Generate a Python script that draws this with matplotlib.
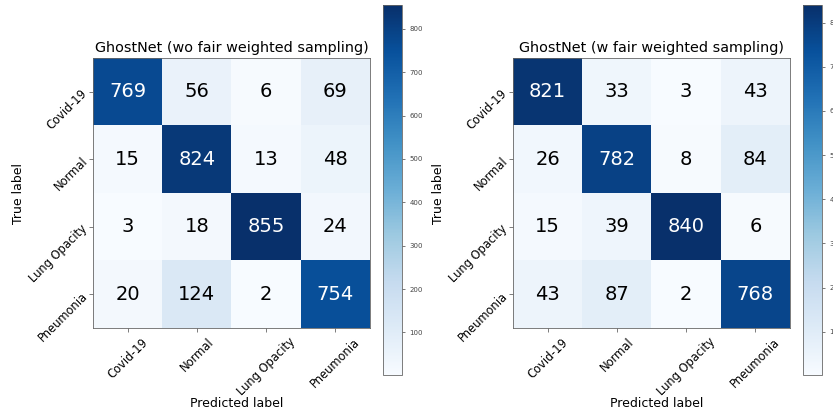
#!/usr/bin/env python

"""
Confusion matrices of GhostNet with and without fair weighted sampling.
"""

import matplotlib
matplotlib.use("Agg")
import matplotlib.pyplot as plt
import numpy as np

classes = ["Covid-19", "Normal", "Lung Opacity", "Pneumonia"]

cm_wo = [[769, 56, 6, 69],
         [15, 824, 13, 48],
         [3, 18, 855, 24],
         [20, 124, 2, 754]]

cm_w = [[821, 33, 3, 43],
        [26, 782, 8, 84],
        [15, 39, 840, 6],
        [43, 87, 2, 768]]

titles = ["GhostNet (wo fair weighted sampling)", "GhostNet (w fair weighted sampling)"]


def plot_cm(fig, ax_rect, cb_rect, cm, title):
    cm = np.array(cm)
    ax = fig.add_axes(ax_rect)
    im = ax.imshow(cm, interpolation="nearest", cmap=plt.cm.Blues, aspect="auto")
    cax = fig.add_axes(cb_rect)
    cb = fig.colorbar(im, cax=cax)
    cb.ax.tick_params(labelsize=5, length=2, width=0.5, colors="#444444")
    cb.outline.set_linewidth(0.6)
    cb.outline.set_edgecolor("#666666")
    ax.set_title(title, fontsize=10.4, pad=4)
    ticks = np.arange(len(classes))
    ax.set_xticks(ticks)
    ax.set_xticklabels(classes, rotation=45, fontsize=8.3)
    ax.set_yticks(ticks)
    ax.set_yticklabels(classes, rotation=45, fontsize=8.3, rotation_mode="anchor",
                       ha="right", va="center")
    ax.tick_params(length=3, width=0.6, color="#666666", pad=2.5)
    thresh = cm.max() / 2.0
    for i in range(cm.shape[0]):
        for j in range(cm.shape[1]):
            ax.text(j, i, str(cm[i, j]), ha="center", va="center", fontsize=14,
                    color="white" if cm[i, j] > thresh else "black")
    ax.set_ylabel("True label", fontsize=9)
    ax.yaxis.set_label_coords(-0.245, 0.5)
    ax.set_xlabel("Predicted label", fontsize=9)
    ax.xaxis.set_label_coords(0.52, -0.255)
    for s in ax.spines.values():
        s.set_linewidth(0.6)
        s.set_color("#666666")
    return ax


fig = plt.figure(figsize=(8.33, 4.11), dpi=100)
W, H = 833.0, 411.0

plot_cm(fig, [93 / W, 1 - 328 / H, 277 / W, 270 / H],
        [383 / W, 1 - 375 / H, 19 / W, 370 / H], cm_wo, titles[0])
plot_cm(fig, [513 / W, 1 - 328 / H, 277 / W, 270 / H],
        [803 / W, 1 - 375 / H, 19 / W, 370 / H], cm_w, titles[1])

fig.savefig("out.png", dpi=100)
